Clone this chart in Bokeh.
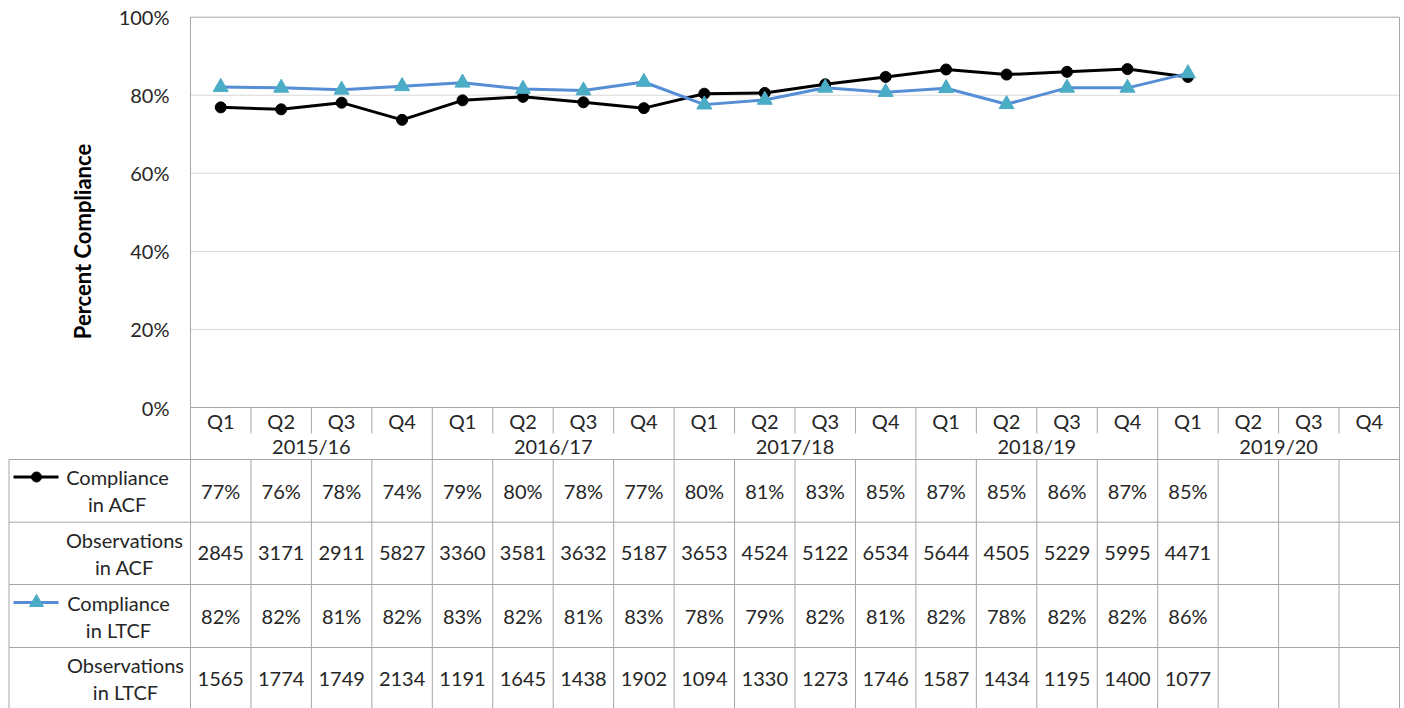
import math
from bokeh.plotting import figure
from bokeh.models import Range1d
from bokeh.core.properties import value
from bokeh.embed import file_html
from bokeh.resources import INLINE

# ---------------- data ----------------
quarters = ["Q1", "Q2", "Q3", "Q4"] * 5
years = ["2015/16", "2016/17", "2017/18", "2018/19", "2019/20"]
acf_compliance = [76.9, 76.4, 78.1, 73.7, 78.7, 79.6, 78.2, 76.7, 80.4, 80.6,
                  82.8, 84.7, 86.6, 85.3, 86.0, 86.7, 84.7]
acf_observations = [2845, 3171, 2911, 5827, 3360, 3581, 3632, 5187, 3653, 4524,
                    5122, 6534, 5644, 4505, 5229, 5995, 4471]
ltcf_compliance = [82.1, 81.9, 81.4, 82.3, 83.2, 81.6, 81.2, 83.4, 77.6, 78.8,
                   81.9, 80.8, 81.8, 77.7, 81.9, 81.9, 85.6]
ltcf_observations = [1565, 1774, 1749, 2134, 1191, 1645, 1438, 1902, 1094, 1330,
                     1273, 1746, 1587, 1434, 1195, 1400, 1077]
y_ticks = [0, 20, 40, 60, 80, 100]
row_labels = [("Compliance", "in ACF"), ("Observations", "in ACF"),
              ("Compliance", "in LTCF"), ("Observations", "in LTCF")]
y_title = "Percent Compliance"

# ---------------- layout helpers (page pixels -> data units) ----------------
W, H = 1404, 708
PLOT_L, PLOT_R = 190, 1399
ZERO_Y, PX_PER_PCT = 407, 3.903
NCOL = len(quarters)
COLW = (PLOT_R - PLOT_L) / NCOL


def X(px):
    return (px - PLOT_L) / COLW


def Y(py):
    return (ZERO_Y - py) / PX_PER_PCT


FONT = value("Lato")
TXT = "#262626"
GRID = "#d9d9d9"
BORDER = "#a6a6a6"
ACF_COLOR = "#000000"
LTCF_LINE = "#558ed5"
LTCF_MARK = "#4bacc6"

p = figure(width=W, height=H, x_range=Range1d(X(0), X(W)),
           y_range=Range1d(Y(H), Y(0)), output_backend="svg",
           toolbar_location=None, min_border=0)
p.axis.visible = False
p.grid.visible = False
p.outline_line_color = None
p.background_fill_color = "white"
p.border_fill_color = "white"

BOTTOM = Y(H + 2)

# gridlines
gx0, gy0, gx1, gy1 = [], [], [], []
for t in y_ticks[1:-1]:
    gx0.append(0); gy0.append(t); gx1.append(NCOL); gy1.append(t)
p.segment(gx0, gy0, gx1, gy1, line_color=GRID, line_width=1)

# borders and table lines
bx0, by0, bx1, by1 = [], [], [], []
bx0 += [0, 0, NCOL, 0]; by0 += [100, 100, 100, 0]
bx1 += [NCOL, 0, NCOL, NCOL]; by1 += [100, BOTTOM, BOTTOM, 0]
for c in range(1, NCOL):
    if c % 4 == 0:
        bx0.append(c); by0.append(0); bx1.append(c); by1.append(BOTTOM)
    else:
        bx0.append(c); by0.append(0); bx1.append(c); by1.append(Y(433))
        bx0.append(c); by0.append(Y(459)); bx1.append(c); by1.append(BOTTOM)
row_edges = [459, 521.7, 584, 647]
for py in row_edges:
    bx0.append(X(8.5)); by0.append(Y(py)); bx1.append(NCOL); by1.append(Y(py))
bx0.append(X(8.5)); by0.append(Y(459)); bx1.append(X(8.5)); by1.append(BOTTOM)
p.segment(bx0, by0, bx1, by1, line_color=BORDER, line_width=1)

# series
idx = [i + 0.5 for i in range(len(acf_compliance))]
p.line(idx, acf_compliance, line_color=ACF_COLOR, line_width=3)
p.scatter(idx, acf_compliance, marker="circle", size=11,
          fill_color=ACF_COLOR, line_color=ACF_COLOR)
idx2 = [i + 0.5 for i in range(len(ltcf_compliance))]
p.line(idx2, ltcf_compliance, line_color=LTCF_LINE, line_width=3)
p.scatter(idx2, ltcf_compliance, marker="triangle", size=15,
          fill_color=LTCF_MARK, line_color=LTCF_MARK)

# y tick labels
p.text(x=[X(169)] * len(y_ticks), y=y_ticks, text=[f"{t}%" for t in y_ticks],
       text_font=FONT, text_font_size="20px", text_color=TXT,
       text_align="right", text_baseline="middle")
# y axis title
p.text(x=[X(82)], y=[Y(241)], text=[y_title], angle=math.pi / 2,
       text_font=FONT, text_font_size="22px", text_font_style="bold",
       text_color="#000000", text_align="center", text_baseline="middle")

# category labels
p.text(x=[i + 0.5 for i in range(NCOL)], y=[Y(420)] * NCOL, text=quarters,
       text_font=FONT, text_font_size="20px", text_color=TXT,
       text_align="center", text_baseline="middle")
p.text(x=[4 * k + 2 for k in range(len(years))], y=[Y(445)] * len(years),
       text=years, text_font=FONT, text_font_size="20px", text_color=TXT,
       text_align="center", text_baseline="middle")

# table rows
row_centers = [490, 552.5, 615.5, 678]
table_rows = [[f"{round(v)}%" for v in acf_compliance],
              [str(v) for v in acf_observations],
              [f"{round(v)}%" for v in ltcf_compliance],
              [str(v) for v in ltcf_observations]]
for r, vals in enumerate(table_rows):
    p.text(x=[i + 0.5 for i in range(len(vals))], y=[Y(row_centers[r])] * len(vals),
           text=vals, text_font=FONT, text_font_size="20px", text_color=TXT,
           text_align="center", text_baseline="middle")

# row header labels
label_cx = [117, 124, 118, 125]
for r, (l1, l2) in enumerate(row_labels):
    cy = row_centers[r]
    p.text(x=[X(label_cx[r])] * 2, y=[Y(cy - 13.5), Y(cy + 13.5)], text=[l1, l2],
           text_font=FONT, text_font_size="20px", text_color=TXT,
           text_align="center", text_baseline="middle")

# legend keys in row headers
ky1, ky2 = Y(row_centers[0] - 13.5), Y(row_centers[2] - 13.5)
p.line([X(13), X(58)], [ky1, ky1], line_color=ACF_COLOR, line_width=3)
p.scatter([X(36)], [ky1], marker="circle", size=10, fill_color=ACF_COLOR,
          line_color=ACF_COLOR)
p.line([X(13), X(58)], [ky2, ky2], line_color=LTCF_LINE, line_width=3)
p.scatter([X(36)], [ky2], marker="triangle", size=14, fill_color=LTCF_MARK,
          line_color=LTCF_MARK)

open("out.html", "w").write(file_html(p, INLINE))
